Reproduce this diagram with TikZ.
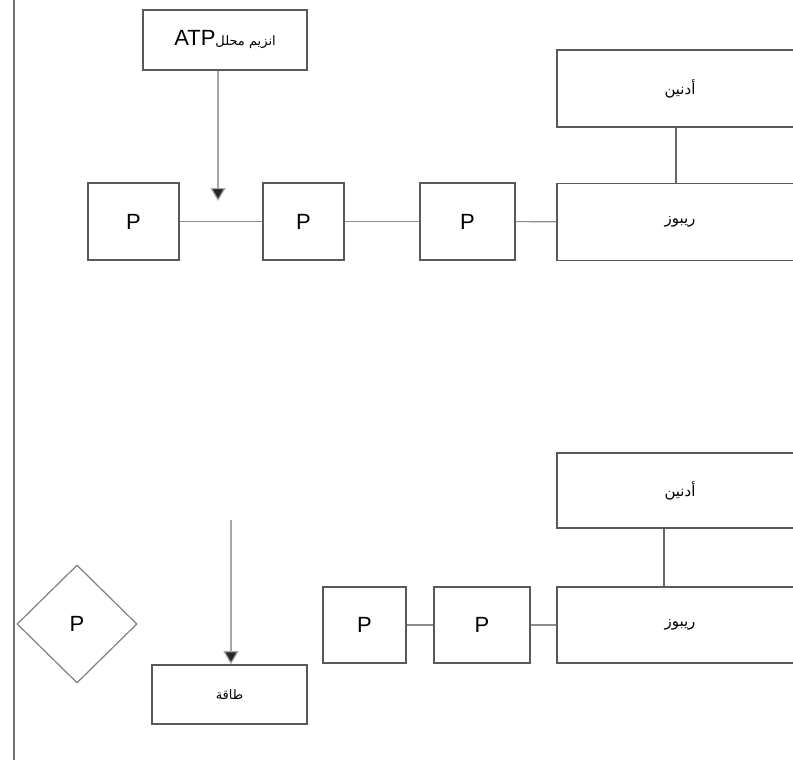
\documentclass[tikz,border=0pt]{standalone}
\usepackage{fontspec}
\setmainfont{Liberation Sans}
\newfontfamily\arabicfont[Script=Arabic]{DejaVu Sans}
\TeXXeTstate=1
\usetikzlibrary{shapes.geometric,arrows.meta}

\tikzset{
    box/.style={draw=black!65, line width=1.6pt, fill=white, inner sep=0pt,
        font=\fontsize{22}{24}\selectfont},
    pbox/.style={box, minimum height=77pt},
    widebox/.style={box, minimum width=246pt, minimum height=77pt,
        font=\arabicfont\fontsize{15}{17}\selectfont},
    link/.style={draw=black!45, line width=1.2pt},
    thicklink/.style={draw=black!45, line width=2.6pt},
    downarrow/.style={draw=black!35, line width=1.2pt,
        -{Triangle[width=15pt,length=13pt,fill=black!85]}},
}

\begin{document}
\begin{tikzpicture}[x=1pt, y=-1pt]
    \useasboundingbox (0, 0) rectangle (793, 766);
    \clip (0, 0) rectangle (793, 766);
    % left margin rule
    \draw [black!55, line width=2.6pt] (14, 0) -- (14, 760);

    % upper chain
    \node [box, minimum width=164pt, minimum height=60pt] (atp) at (225, 40)
        {{\arabicfont\fontsize{13}{15}\selectfont\beginR انزيم محلل\beginL{\fontsize{22}{24}\selectfont\rmfamily ATP}\endL\endR}};
    \node [pbox, minimum width=91pt] (p1) at (133.5, 221.5) {P};
    \node [pbox, minimum width=81pt] (p2) at (303.5, 221.5) {P};
    \node [pbox, minimum width=95pt] (p3) at (467.5, 221.5) {P};
    \node [widebox] (ribose1) at (680, 222) {\beginR ريبوز\endR};
    \node [widebox] (adenine1) at (680, 88.5) {\beginR أدنين\endR};
    \draw [link] (p1) -- (p2);
    \draw [link] (p2) -- (p3);
    \draw [link] (p3) -- (ribose1);
    \draw [black!60, line width=2pt] ([xshift=-4pt]adenine1.south) -- ([xshift=-4pt]ribose1.north);
    % enzyme arrow
    \coordinate (cut) at (218, 201);
    \draw [downarrow] (atp.south -| cut) -- (cut);

    % lower chain
    \node [draw=black!50, line width=1.2pt, diamond, minimum width=120pt,
        minimum height=118pt, inner sep=0pt, font=\fontsize{22}{24}\selectfont]
        (free) at (77, 624) {P};
    \node [pbox, minimum width=83pt, minimum height=76pt] (p4) at (364.5, 625) {P};
    \node [pbox, minimum width=96pt, minimum height=76pt] (p5) at (482, 625) {P};
    \node [widebox, minimum height=76pt] (ribose2) at (680, 625) {\beginR ريبوز\endR};
    \node [widebox, minimum height=75pt] (adenine2) at (680, 490.5) {\beginR أدنين\endR};
    \draw [thicklink] (p4) -- (p5);
    \draw [thicklink] (p5) -- (ribose2);
    \draw [black!60, line width=2pt] ([xshift=-16pt]adenine2.south) -- ([xshift=-16pt]ribose2.north);
    % released energy
    \node [box, minimum width=155pt, minimum height=59pt,
        font=\arabicfont\fontsize{13}{15}\selectfont] (energy) at (229.5, 694.5)
        {\beginR طاقة\endR};
    \coordinate (start) at (231, 520);
    \draw [downarrow] (start) -- (energy.north -| start);
\end{tikzpicture}
\end{document}
